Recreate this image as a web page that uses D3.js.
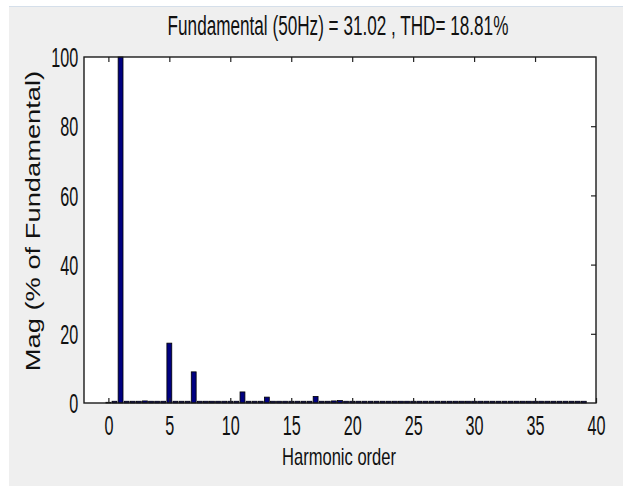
<!DOCTYPE html>
<html>
<head>
<meta charset="utf-8">
<script src="https://cdn.jsdelivr.net/npm/d3@7"></script>
<style>
  body { margin: 0; background: #ffffff; }
  text { font-family: "Liberation Sans", Arial, sans-serif; fill: #111; }
</style>
</head>
<body>
<div id="chart"></div>
<script>
// harmonic orders (0 to 39 step 0.5) and magnitude in % of fundamental
var orders = [0, 0.5, 1, 1.5, 2, 2.5, 3, 3.5, 4, 4.5, 5, 5.5, 6, 6.5, 7, 7.5, 8, 8.5, 9, 9.5,
    10, 10.5, 11, 11.5, 12, 12.5, 13, 13.5, 14, 14.5, 15, 15.5, 16, 16.5, 17, 17.5, 18, 18.5, 19, 19.5,
    20, 20.5, 21, 21.5, 22, 22.5, 23, 23.5, 24, 24.5, 25, 25.5, 26, 26.5, 27, 27.5, 28, 28.5, 29, 29.5,
    30, 30.5, 31, 31.5, 32, 32.5, 33, 33.5, 34, 34.5, 35, 35.5, 36, 36.5, 37, 37.5, 38, 38.5, 39];
var mags = [0.2, 0.5, 100, 0.5, 0.5, 0.5, 0.6, 0.5, 0.5, 0.5, 17.3, 0.5, 0.5, 0.5, 9.0, 0.5, 0.5, 0.5, 0.5, 0.5,
    0.5, 0.5, 3.2, 0.5, 0.5, 0.5, 1.7, 0.5, 0.5, 0.5, 0.5, 0.5, 0.5, 0.5, 1.9, 0.5, 0.5, 0.6, 0.7, 0.5,
    0.5, 0.5, 0.5, 0.5, 0.5, 0.5, 0.5, 0.5, 0.5, 0.5, 0.5, 0.5, 0.5, 0.5, 0.5, 0.5, 0.5, 0.5, 0.5, 0.5,
    0.5, 0.5, 0.5, 0.5, 0.5, 0.5, 0.5, 0.5, 0.5, 0.5, 0.5, 0.5, 0.5, 0.5, 0.5, 0.5, 0.5, 0.5, 0.5];
var xTicks = [0, 5, 10, 15, 20, 25, 30, 35, 40];
var yTicks = [0, 20, 40, 60, 80, 100];
var titleText = "Fundamental (50Hz) = 31.02 , THD= 18.81%";

var svgWidth = 623;
var svgHeight = 486;

var plot = { left: 84, right: 596, top: 57, bottom: 403 };

var svg = d3.select("#chart")
    .append("svg")
    .attr("width", svgWidth)
    .attr("height", svgHeight);

// figure background
svg.append("rect")
    .attr("x", 9).attr("y", 6)
    .attr("width", svgWidth - 9).attr("height", svgHeight - 6)
    .attr("fill", "#efefef");
svg.append("line")
    .attr("x1", 9).attr("x2", svgWidth)
    .attr("y1", 6.5).attr("y2", 6.5)
    .attr("stroke", "#d5dfea");

var x = d3.scaleLinear().domain([-2, 40]).range([plot.left, plot.right]);
var y = d3.scaleLinear().domain([0, 100]).range([plot.bottom, plot.top]);

// axes area
svg.append("rect")
    .attr("x", plot.left).attr("y", plot.top)
    .attr("width", plot.right - plot.left)
    .attr("height", plot.bottom - plot.top)
    .attr("fill", "#ffffff");

// bars
var barW = x(0.4) - x(0);
svg.append("g").selectAll("rect")
    .data(orders)
    .enter()
    .append("rect")
    .attr("x", (d) => x(d) - barW / 2)
    .attr("y", (d, i) => y(mags[i]))
    .attr("width", barW)
    .attr("height", (d, i) => y(0) - y(mags[i]))
    .attr("fill", "#000080")
    .attr("stroke", "#000")
    .attr("stroke-width", 0.8);

// ticks
var xAxisBottom = svg.append("g")
    .attr("transform", `translate(0, ${plot.bottom})`)
    .call(d3.axisBottom(x).tickValues(xTicks).tickSizeInner(-5).tickSizeOuter(0));
xAxisBottom.selectAll("text")
    .attr("y", 32)
    .attr("dy", null)
    .attr("font-size", 27)
    .attr("transform", "scale(0.6,1)");

var xAxisTop = svg.append("g")
    .attr("transform", `translate(0, ${plot.top})`)
    .call(d3.axisTop(x).tickValues(xTicks.slice(0, -1)).tickSizeInner(-5).tickSizeOuter(0).tickFormat(""));

var yAxisLeft = svg.append("g")
    .attr("transform", `translate(${plot.left}, 0)`)
    .call(d3.axisLeft(y).tickValues(yTicks).tickSize(0));
yAxisLeft.selectAll("text")
    .attr("x", -9.5)
    .attr("dy", "0.36em")
    .attr("font-size", 27)
    .attr("transform", "scale(0.6,1)");

var yAxisRight = svg.append("g")
    .attr("transform", `translate(${plot.right}, 0)`)
    .call(d3.axisRight(y).tickValues(yTicks.slice(1, -1)).tickSizeInner(-5).tickSizeOuter(0).tickFormat(""));

[xAxisBottom, xAxisTop, yAxisLeft, yAxisRight].forEach(function(g) {
    g.select(".domain").remove();
    g.selectAll("line").attr("stroke", "#222").attr("stroke-width", 1.2);
    g.selectAll("text").attr("fill", "#111").attr("font-family", "Liberation Sans, Arial, sans-serif");
});

// box
svg.append("rect")
    .attr("x", plot.left).attr("y", plot.top)
    .attr("width", plot.right - plot.left)
    .attr("height", plot.bottom - plot.top)
    .attr("fill", "none")
    .attr("stroke", "#1a1a1a")
    .attr("stroke-width", 1.4);

// title and labels (narrow text squeezed horizontally like the reference)
svg.append("text")
    .attr("transform", "translate(338, 35) scale(0.635,1)")
    .attr("text-anchor", "middle")
    .attr("font-size", 27)
    .text(titleText);

svg.append("text")
    .attr("transform", "translate(339, 465) scale(0.72,1)")
    .attr("text-anchor", "middle")
    .attr("font-size", 23)
    .text("Harmonic order");

svg.append("text")
    .attr("transform", "translate(40, 221) rotate(-90) scale(1.3,1)")
    .attr("text-anchor", "middle")
    .attr("font-size", 21)
    .text("Mag (% of Fundamental)");
</script>
</body>
</html>
